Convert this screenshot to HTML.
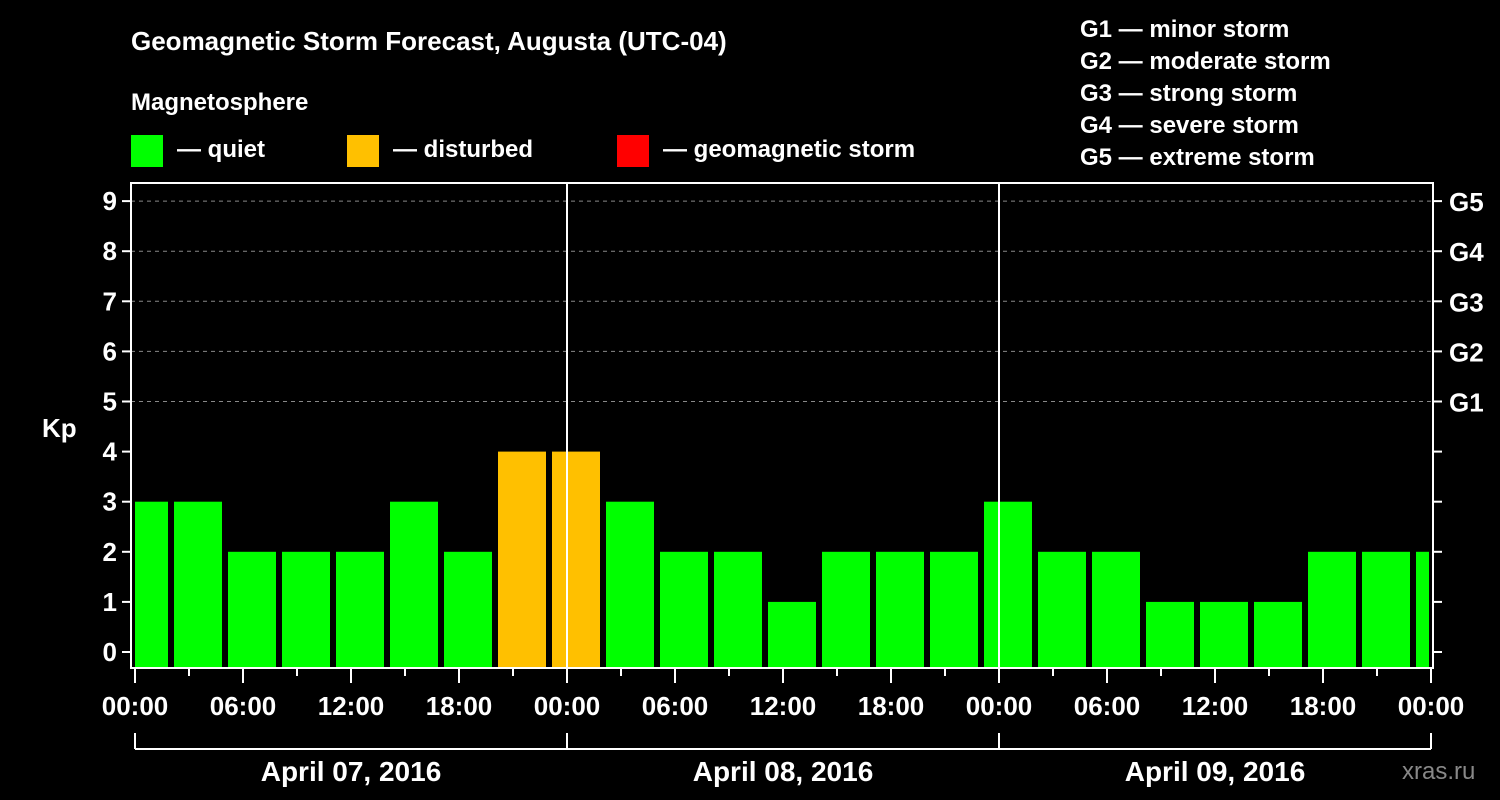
<!DOCTYPE html>
<html><head><meta charset="utf-8"><style>
body{margin:0;background:#000;}
svg{display:block;font-family:"Liberation Sans",Arial,sans-serif;font-weight:bold;}
</style></head><body>
<svg id="c" width="1500" height="800" viewBox="0 0 1500 800">
<rect width="1500" height="800" fill="#000"/>
<text x="131" y="50" fill="#fff" font-size="26">Geomagnetic Storm Forecast, Augusta (UTC-04)</text>
<text x="131" y="110" fill="#fff" font-size="24">Magnetosphere</text>
<g><rect x="131" y="135" width="32" height="32" fill="#00ff00"/><text x="177" y="157" fill="#fff" font-size="24">— quiet</text></g>
<g><rect x="347" y="135" width="32" height="32" fill="#ffc000"/><text x="393" y="157" fill="#fff" font-size="24">— disturbed</text></g>
<g><rect x="617" y="135" width="32" height="32" fill="#ff0000"/><text x="663" y="157" fill="#fff" font-size="24">— geomagnetic storm</text></g>
<g fill="#fff" font-size="24">
<text x="1080" y="37">G1 — minor storm</text>
<text x="1080" y="69">G2 — moderate storm</text>
<text x="1080" y="101">G3 — strong storm</text>
<text x="1080" y="133">G4 — severe storm</text>
<text x="1080" y="165">G5 — extreme storm</text>
</g>
<text x="42" y="437" fill="#fff" font-size="26">Kp</text>
<text x="1402" y="779" fill="#888" font-size="24" font-weight="normal">xras.ru</text>
<g id="plot"></g>
</svg>
<script>
const kpValues=[3,3,2,2,2,3,2,4,4,3,2,2,1,2,2,2,3,2,2,1,1,1,2,2,2];
const yTicks=[0,1,2,3,4,5,6,7,8,9];
const gLabels=["G1","G2","G3","G4","G5"];
const xTickLabels=["00:00","06:00","12:00","18:00","00:00","06:00","12:00","18:00","00:00","06:00","12:00","18:00","00:00"];
const dayLabels=["April 07, 2016","April 08, 2016","April 09, 2016"];
const NS="http://www.w3.org/2000/svg";
const L=131,R=1433,T=183,B=668;
const X=h=>135+h*18;
const Y=v=>652-v*50.1;
const g=document.getElementById('plot');
function mk(t,a,p){const e=document.createElementNS(NS,t);for(const k in a)e.setAttribute(k,a[k]);(p||g).appendChild(e);return e;}
// grid
for(let v=5;v<=9;v++){const e=mk('line',{x1:L,x2:R,y1:Y(v),y2:Y(v),stroke:'#888','stroke-dasharray':'4,4','stroke-width':1});

}
// bars
kpValues.forEach((v,i)=>{let x1=X(3*i+0.5)-24,x2=x1+48;x1=Math.max(x1,L+4);x2=Math.min(x2,R-4);
const col=v>=5?'#ff0000':v>=4?'#ffc000':'#00ff00';
const e=mk('rect',{x:x1,y:Y(v),width:x2-x1,height:B-Y(v),fill:col});

});
// day lines
for(let d=1;d<3;d++){const e=mk('line',{x1:X(24*d),x2:X(24*d),y1:T,y2:B,stroke:'#fff','stroke-width':2});

}
// frame
const fr=mk('rect',{x:L,y:T,width:R-L,height:B-T,fill:'none',stroke:'#fff','stroke-width':2});


// y ticks
yTicks.forEach(v=>{mk('line',{x1:L-9,x2:L,y1:Y(v),y2:Y(v),stroke:'#fff','stroke-width':2});
mk('line',{x1:R,x2:R+9,y1:Y(v),y2:Y(v),stroke:'#fff','stroke-width':2});
const t=mk('text',{x:L-14,y:Y(v)+9,'text-anchor':'end',fill:'#fff','font-size':26});t.textContent=v;

});
gLabels.forEach((s,i)=>{const t=mk('text',{x:R+16,y:Y(5+i)+10,fill:'#fff','font-size':26});t.textContent=s;

});
// x ticks
for(let h=0;h<=72;h+=3){const maj=h%6===0;mk('line',{x1:X(h),x2:X(h),y1:B,y2:B+(maj?15:8),stroke:'#fff','stroke-width':2});}
xTickLabels.forEach((s,i)=>{const t=mk('text',{x:X(6*i),y:715,'text-anchor':'middle',fill:'#fff','font-size':26});t.textContent=s;

});
// day bracket
mk('line',{x1:X(0),x2:X(72),y1:749,y2:749,stroke:'#fff','stroke-width':2});
for(let d=0;d<=3;d++)mk('line',{x1:X(24*d),x2:X(24*d),y1:733,y2:749,stroke:'#fff','stroke-width':2});
dayLabels.forEach((s,i)=>{const t=mk('text',{x:X(24*i+12),y:781,'text-anchor':'middle',fill:'#fff','font-size':28});t.textContent=s;

});
</script>
</body></html>
